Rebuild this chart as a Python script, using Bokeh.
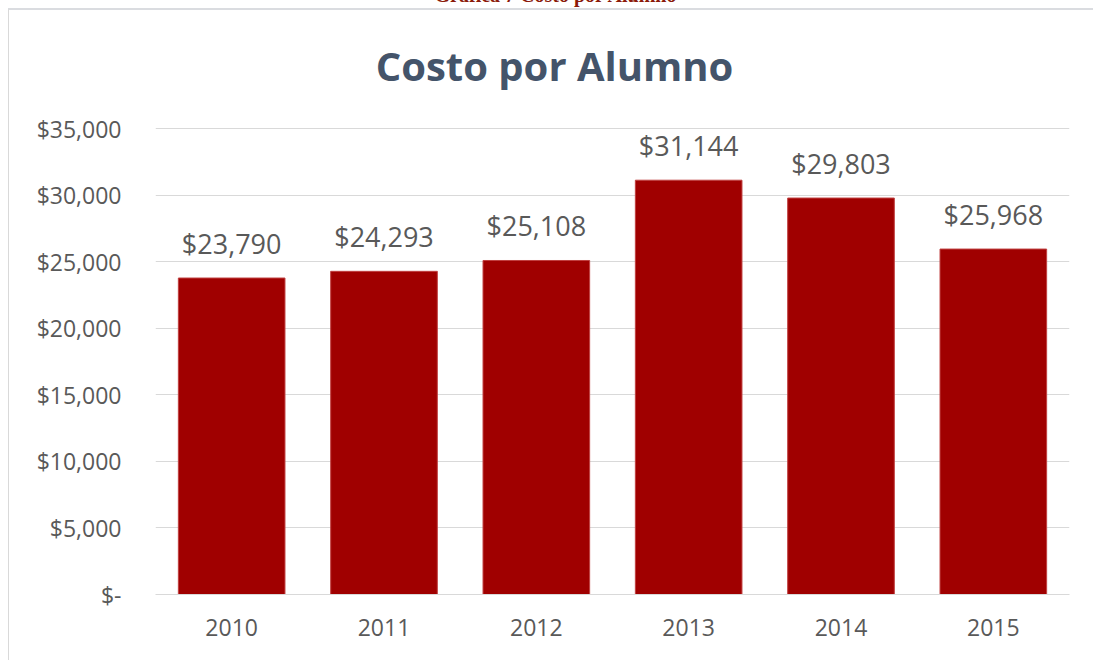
from bokeh.plotting import figure
from bokeh.models import ColumnDataSource, FixedTicker, Label, LabelSet, Div, Spacer, Range1d
from bokeh.layouts import column, row
from bokeh.core.properties import value
from bokeh.embed import file_html
from bokeh.resources import INLINE

years = ["2010", "2011", "2012", "2013", "2014", "2015"]
costs = [23790, 24293, 25108, 31144, 29803, 25968]
cost_labels = ["$23,790", "$24,293", "$25,108", "$31,144", "$29,803", "$25,968"]
y_ticks = [0, 5000, 10000, 15000, 20000, 25000, 30000, 35000]
y_tick_labels = ["$-", "$5,000", "$10,000", "$15,000", "$20,000", "$25,000", "$30,000", "$35,000"]
chart_title = "Costo por Alumno"
caption = "Gráfica 7 Costo por Alumno"

# layout (pixels): the frame reaches the top of the canvas so the title fits inside it;
# the value axis spans 464 px of the 582 px frame.
FRAME_PX = 582
AXIS_PX = 464
y_top = y_ticks[-1] * FRAME_PX / AXIS_PX

src = ColumnDataSource(dict(year=years, cost=costs, label=cost_labels))

p = figure(x_range=years, y_range=Range1d(0, y_top), width=1085, height=652,
           output_backend="svg", toolbar_location=None,
           min_border_left=146, min_border_right=25, min_border_bottom=68, min_border_top=0)

p.vbar(x="year", top="cost", width=0.70, source=src, fill_color="#A00000",
       line_color="#C04040", line_width=1)

labels = LabelSet(x="year", y="cost", text="label", source=src, text_align="center",
                  text_baseline="bottom", y_offset=16, text_font=value("Open Sans"),
                  text_font_size="27px", text_color="#595959")
p.add_layout(labels)

title = Label(x=399, y=FRAME_PX - 53, x_units="screen", y_units="screen", text=chart_title,
              text_align="center", text_baseline="middle", text_font="Open Sans",
              text_font_size="40px", text_font_style="bold", text_color="#44546A")
p.add_layout(title)

p.yaxis.ticker = FixedTicker(ticks=y_ticks)
p.yaxis.major_label_overrides = {t: l for t, l in zip(y_ticks, y_tick_labels)}
p.yaxis.axis_line_color = None
p.yaxis.major_tick_line_color = None
p.yaxis.minor_tick_line_color = None
p.yaxis.major_label_text_font = "Open Sans"
p.yaxis.major_label_text_font_size = "23px"
p.yaxis.major_label_text_color = "#595959"
p.yaxis.major_label_standoff = 28

p.xaxis.axis_line_color = "#D9D9D9"
p.xaxis.major_tick_line_color = None
p.xaxis.minor_tick_line_color = None
p.xaxis.major_label_text_font = "Open Sans"
p.xaxis.major_label_text_font_size = "23px"
p.xaxis.major_label_text_color = "#595959"
p.xaxis.major_label_standoff = 18

p.xgrid.grid_line_color = None
p.ygrid.grid_line_color = "#D9D9D9"
p.ygrid.grid_line_width = 1
p.outline_line_color = None
p.x_range.range_padding = 0

p.styles = {"border-left": "1px solid #D9D9D9", "border-top": "2px solid #DADCE0"}

header = Div(
    text=('<div style="position:relative; top:-15px; width:1093px; text-align:center; '
          'padding-left:18px; box-sizing:border-box; font-family:\'Liberation Serif\'; '
          'font-weight:bold; font-size:20px; line-height:20px; color:#8B1A0A; white-space:nowrap;">'
          + caption + '</div>'),
    width=1093, height=8, margin=0, styles={"overflow": "hidden"})

layout = column(header, row(Spacer(width=8, height=652, margin=0), p, spacing=0), spacing=0)

open("out.html", "w").write(file_html(layout, INLINE))
